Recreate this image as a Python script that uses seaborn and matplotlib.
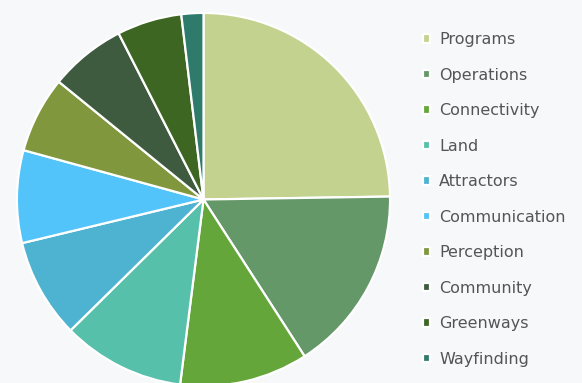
import matplotlib
matplotlib.use("Agg")
import matplotlib.pyplot as plt
import seaborn as sns

# Share of items by category
categories = ["Programs", "Operations", "Connectivity", "Land", "Attractors",
              "Communication", "Perception", "Community", "Greenways", "Wayfinding"]
shares = [24.7, 16.1, 11.1, 10.6, 8.6, 8.0, 6.6, 6.6, 5.6, 1.9]
colors = ["#c3d38f", "#659868", "#64a639", "#57c0aa", "#4db3d0",
          "#52c4fa", "#80973d", "#3e5b3f", "#3e6623", "#2e7b6c"]

sns.set_theme(style="white")
plt.rcParams["font.family"] = ["DejaVu Sans"]

bg = "#f7f8fa"
fig = plt.figure(figsize=(5.82, 3.83), dpi=100, facecolor=bg)
ax = fig.add_axes([16 / 582, -4 / 383, 375 / 582, 375 / 383])
ax.set_facecolor(bg)

palette = sns.color_palette(colors)
wedges, _ = ax.pie(shares, colors=palette, startangle=90, counterclock=False,
                   radius=1.0,
                   wedgeprops=dict(edgecolor="white", linewidth=1.6))
ax.set_xlim(-1.005, 1.005)
ax.set_ylim(-1.005, 1.005)
ax.set_aspect("equal")
ax.axis("off")

leg = fig.legend(wedges, categories, loc="upper left",
                 bbox_to_anchor=(423 / 582, 1 - 32 / 383),
                 frameon=False, fontsize=11.5, labelcolor="#555555",
                 handlelength=0.45, handleheight=0.45, handletextpad=0.55,
                 labelspacing=1.285, borderpad=0, borderaxespad=0)

fig.savefig("out.png", dpi=100, facecolor=bg)
